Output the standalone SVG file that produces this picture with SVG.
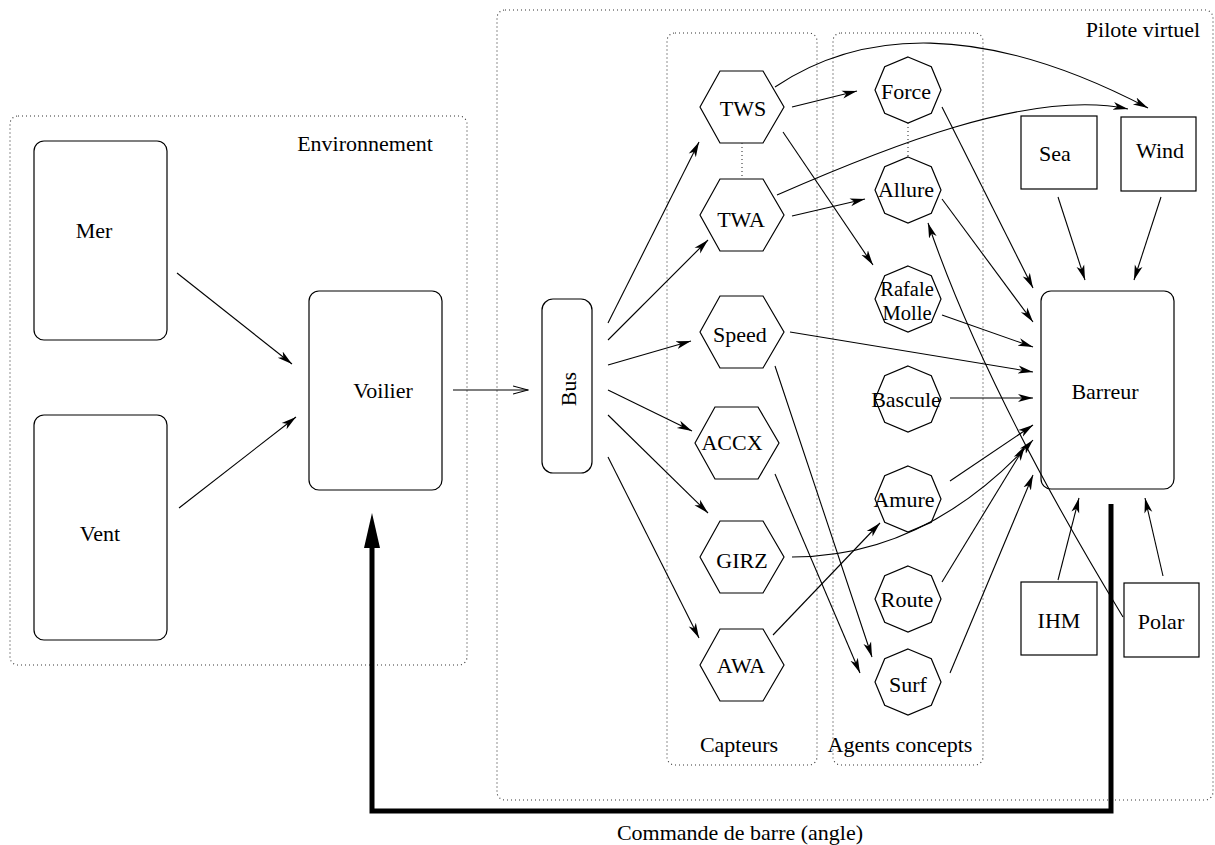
<svg xmlns="http://www.w3.org/2000/svg" xmlns:xlink="http://www.w3.org/1999/xlink" width="1215" height="845" viewBox="0 0 1215 845">
<style>
text{font-family:"Liberation Serif","Times New Roman",serif;font-size:22px;fill:#000;text-anchor:middle}
.small{font-size:20.5px}
.box{fill:#fff;stroke:#000;stroke-width:1.2}
.grp{fill:none;stroke:#333;stroke-width:1.1;stroke-dasharray:1 3}
.sep{fill:none;stroke:#333;stroke-width:1.1;stroke-dasharray:1 3}
.cn{fill:none;stroke:#000;stroke-width:1.1;marker-end:url(#ah)}
.open{fill:none;stroke:#000;stroke-width:1.1;marker-end:url(#oa)}
.thick{fill:none;stroke:#000;stroke-width:5}
</style>
<defs>
<marker id="ah" markerWidth="16" markerHeight="10" refX="15" refY="5" orient="auto" markerUnits="userSpaceOnUse"><path d="M0,1 L15,5 L0,9 L4,5 z" fill="#000"/></marker>
<marker id="oa" markerWidth="16" markerHeight="10" refX="15" refY="5" orient="auto" markerUnits="userSpaceOnUse"><path d="M0,1 L15,5 L0,9" fill="none" stroke="#000" stroke-width="1.1"/></marker>
<polygon id="hex" points="-42,0 -22,-36 21,-36 42,0 21,36 -22,36" class="box"/>
<polygon id="oct" points="0,-33 23.3,-23.3 33,0 23.3,23.3 0,33 -23.3,23.3 -33,0 -23.3,-23.3" class="box"/>
</defs>
<rect width="1215" height="845" fill="#fff"/>

<g id="environnement">
<rect class="grp" x="10" y="116" width="457" height="549" rx="8"/>
<text x="365" y="151">Environnement</text>
</g>
<g id="pilote">
<rect class="grp" x="497" y="10" width="716" height="790" rx="8"/>
<text x="1143" y="37">Pilote virtuel</text>
</g>
<g id="capteurs">
<rect class="grp" x="667" y="33" width="150" height="732" rx="8"/>
<text x="739" y="752">Capteurs</text>
</g>
<g id="agents">
<rect class="grp" x="833" y="33" width="150" height="732" rx="8"/>
<text x="900" y="752">Agents concepts</text>
</g>

<g id="mer"><rect class="box" x="34" y="141" width="133" height="199" rx="10"/><text x="94" y="238">Mer</text></g>
<g id="vent"><rect class="box" x="34" y="415" width="133" height="225" rx="10"/><text x="100" y="541">Vent</text></g>
<g id="voilier"><rect class="box" x="309" y="291" width="133" height="199" rx="10"/><text x="383" y="398">Voilier</text></g>
<g id="bus"><rect class="box" x="542" y="299" width="50" height="174" rx="11"/><text transform="translate(576,389) rotate(-90)">Bus</text></g>

<g id="tws"><use xlink:href="#hex" x="742" y="107"/><text x="743" y="116">TWS</text></g>
<g id="twa"><use xlink:href="#hex" x="742" y="215"/><text x="741" y="227">TWA</text></g>
<g id="speed"><use xlink:href="#hex" x="742" y="332"/><text x="740" y="342">Speed</text></g>
<g id="accx"><use xlink:href="#hex" x="737" y="443"/><text x="732" y="450">ACCX</text></g>
<g id="girz"><use xlink:href="#hex" x="742" y="557"/><text x="742" y="568">GIRZ</text></g>
<g id="awa"><use xlink:href="#hex" x="742" y="665"/><text x="741" y="673">AWA</text></g>

<g id="force"><use xlink:href="#oct" x="908" y="90"/><text x="906" y="99">Force</text></g>
<g id="allure"><use xlink:href="#oct" x="908" y="190"/><text x="906" y="197">Allure</text></g>
<g id="rafale"><use xlink:href="#oct" x="908" y="299"/><text class="small" x="907" y="296">Rafale</text><text class="small" x="907" y="320">Molle</text></g>
<g id="bascule"><use xlink:href="#oct" x="908" y="399"/><text x="906" y="407">Bascule</text></g>
<g id="amure"><use xlink:href="#oct" x="908" y="499"/><text x="904" y="507">Amure</text></g>
<g id="route"><use xlink:href="#oct" x="908" y="599"/><text x="907" y="607">Route</text></g>
<g id="surf"><use xlink:href="#oct" x="908" y="682"/><text x="908" y="692">Surf</text></g>

<g id="sea"><rect class="box" x="1021" y="116" width="76" height="73"/><text x="1055" y="161">Sea</text></g>
<g id="wind"><rect class="box" x="1121" y="117" width="75" height="74"/><text x="1160" y="158">Wind</text></g>
<g id="barreur"><rect class="box" x="1041" y="291" width="133" height="198" rx="10"/><text x="1105" y="399">Barreur</text></g>
<g id="ihm"><rect class="box" x="1021" y="582" width="76" height="73"/><text x="1059" y="628">IHM</text></g>
<g id="polar"><rect class="box" x="1124" y="583" width="75" height="74"/><text x="1161" y="629">Polar</text></g>

<g id="connectors">
<line class="sep" x1="742" y1="143" x2="742" y2="179"/>
<line class="sep" x1="908" y1="123" x2="908" y2="157"/>
<path class="cn" d="M177,273 L292,364"/>
<path class="cn" d="M179,508 L296,417"/>
<path class="open" d="M453,390 L528,390"/>
<path class="cn" d="M608,323 L699,142"/>
<path class="cn" d="M608,340 L708,240"/>
<path class="cn" d="M608,365 L691,341"/>
<path class="cn" d="M608,390 L692,431"/>
<path class="cn" d="M608,415 L708,513"/>
<path class="cn" d="M608,457 L699,638"/>
<path class="cn" d="M792,107 L857,91"/>
<path class="cn" d="M792,216 L865,199"/>
<path class="cn" d="M783,132 L873,265"/>
<path class="cn" d="M775,87 C860,30 980,20 1148,108"/>
<path class="cn" d="M777,195 C880,150 1030,88 1128,109"/>
<path class="cn" d="M942,107 L1033,288"/>
<path class="cn" d="M942,199 L1033,322"/>
<path class="cn" d="M942,315 L1033,347"/>
<path class="cn" d="M790,332 L1033,372"/>
<path class="cn" d="M950,398 L1033,398"/>
<path class="cn" d="M950,481 L1033,425"/>
<path class="cn" d="M792,557 C880,557 960,520 1033,440"/>
<path class="cn" d="M942,582 L1025,446"/>
<path class="cn" d="M950,673 L1033,475"/>
<path class="cn" d="M1058,197 L1085,280"/>
<path class="cn" d="M1161,197 L1134,280"/>
<path class="cn" d="M1058,580 L1079,498"/>
<path class="cn" d="M1163,576 L1145,498"/>
<path class="cn" d="M1123,617 Q985,390 928,223"/>
<path class="cn" d="M775,366 L872,657"/>
<path class="cn" d="M775,474 L860,673"/>
<path class="cn" d="M773,635 L880,523"/>
<polyline class="thick" points="1111,504 1111,811 372,811 372,545"/>
<polygon points="372,513 364,548 380,548" fill="#000"/>
<text x="740" y="840">Commande de barre (angle)</text>
</g>
</svg>
